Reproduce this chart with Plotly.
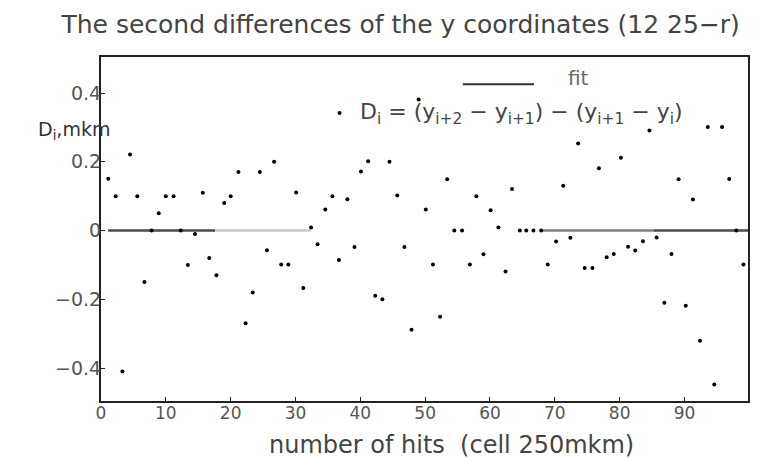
import plotly.graph_objects as go

# ---- data ----
hit_x = [1.13, 2.27, 3.3, 4.48, 5.6, 6.7, 7.8, 8.9, 10.0, 11.2, 12.3, 13.4, 14.5, 15.7, 16.7, 17.8,
         19.0, 20.0, 21.2, 22.3, 23.4, 24.5, 25.6,
         26.7, 27.8, 28.9, 30.1, 31.2, 32.4, 33.4, 34.6, 35.7, 36.7, 38.0, 39.1, 40.1, 41.2, 42.3,
         43.4, 44.5, 45.7, 46.8, 47.9, 49.0, 50.1, 51.2,
         52.3, 53.4, 54.5, 55.7, 56.9, 57.9, 59.0, 60.1, 61.3, 62.4, 63.4, 64.6, 65.6, 66.7, 67.9,
         68.9, 70.2, 71.3, 72.4, 73.6, 74.6, 75.8, 76.8,
         78.0, 79.1, 80.2, 81.3, 82.4, 83.6, 84.6, 85.7, 86.9, 88.0, 89.1, 90.2, 91.3, 92.4, 93.6,
         94.6, 95.8, 96.9, 98.0, 99.1]
d_values = [0.151, 0.10, -0.41, 0.221, 0.10, -0.15, 0.0, 0.05, 0.10, 0.10, 0.0, -0.10, -0.01, 0.11,
            -0.08, -0.13, 0.08, 0.10, 0.17, -0.27, -0.18, 0.17, -0.057,
            0.20, -0.099, -0.099, 0.111, -0.167, 0.009, -0.04, 0.061, 0.10, -0.086, 0.091, -0.048,
            0.172, 0.202, -0.19, -0.20, 0.20, 0.102, -0.048, -0.289, 0.381, 0.061, -0.099,
            -0.251, 0.149, 0.0, 0.0, -0.099, 0.10, -0.069, 0.059, 0.009, -0.119, 0.121, 0.0, 0.0,
            0.0, 0.0, -0.099, -0.032, 0.13, -0.021, 0.253, -0.109, -0.109, 0.181,
            -0.078, -0.068, 0.212, -0.047, -0.058, -0.031, 0.291, -0.02, -0.21, -0.068, 0.149,
            -0.219, 0.09, -0.321, 0.301, -0.448, 0.301, 0.15, 0.0, -0.099]

fit_dark_x = [1.1, 17.6, None, 85.3, 99.8]
fit_dark_y = [0, 0, None, 0, 0]
fit_light_x = [17.6, 32.4]
fit_light_y = [0, 0]
fit_mid_x = [68.0, 85.3]
fit_mid_y = [0, 0]

x_ticks = [0, 10, 20, 30, 40, 50, 60, 70, 80, 90]
y_ticks = [-0.4, -0.2, 0, 0.2, 0.4]
y_tick_text = ["−0.4", "−0.2", "0", "0.2", "0.4"]

FONT = "DejaVu Sans"

fig = go.Figure()
fig.add_trace(go.Scatter(x=fit_dark_x, y=fit_dark_y, mode="lines",
                         line=dict(color="#4a4a4a", width=2.5), showlegend=False, hoverinfo="skip"))
fig.add_trace(go.Scatter(x=fit_light_x, y=fit_light_y, mode="lines",
                         line=dict(color="#c8c8c8", width=2.5), showlegend=False, hoverinfo="skip"))
fig.add_trace(go.Scatter(x=fit_mid_x, y=fit_mid_y, mode="lines",
                         line=dict(color="#808080", width=2.5), showlegend=False, hoverinfo="skip"))
fig.add_trace(go.Scatter(x=hit_x, y=d_values, mode="markers",
                         marker=dict(color="black", size=4, symbol="circle"),
                         showlegend=False))

fig.update_layout(
    width=764, height=458,
    margin=dict(l=93, r=24, t=49, b=65),
    paper_bgcolor="white", plot_bgcolor="white",
    showlegend=False,
    title=dict(text="The second differences of the y coordinates (12 25−r)",
               x=0.514, xanchor="center", y=0.965, yanchor="middle",
               font=dict(family=FONT, size=25, color="#444")),
    xaxis=dict(range=[0, 99.8], tickvals=x_ticks, ticks="inside", ticklen=4,
               tickcolor="#222", showgrid=False, zeroline=False,
               showline=True, linecolor="#222", linewidth=2, mirror=True,
               ticklabelstandoff=-4,
               tickfont=dict(family=FONT, size=17, color="#555")),
    yaxis=dict(range=[-0.496, 0.505], tickvals=y_ticks, ticktext=y_tick_text,
               ticks="inside", ticklen=4, tickcolor="#222", showgrid=False, zeroline=False,
               showline=True, linecolor="#222", linewidth=2, mirror=True,
               ticklabelstandoff=-6,
               tickfont=dict(family=FONT, size=19, color="#555")),
    annotations=[
        dict(text="number of hits  (cell 250mkm)", xref="paper", yref="paper",
             x=0.5425, y=-0.128, xanchor="center", yanchor="middle", showarrow=False,
             font=dict(family=FONT, size=24, color="#444")),
        dict(text="D<sub>i</sub>,mkm", xref="paper", yref="paper",
             x=-0.1005, y=0.785, xanchor="left", yanchor="middle", showarrow=False,
             font=dict(family=FONT, size=19, color="#333")),
        dict(text="fit", xref="x", yref="y", x=71.7, y=0.443, xanchor="left",
             yanchor="middle", showarrow=False,
             font=dict(family=FONT, size=20, color="#666")),
        dict(text="D<sub>i</sub> = (y<sub>i+2</sub> − y<sub>i+1</sub>) − (y<sub>i+1</sub> − y<sub>i</sub>)",
             xref="x", yref="y", x=39.6, y=0.342, xanchor="left", yanchor="middle",
             showarrow=False, font=dict(family=FONT, size=22, color="#444")),
    ],
    shapes=[
        dict(type="line", xref="x", yref="y", x0=55.8, x1=66.8, y0=0.426, y1=0.426,
             line=dict(color="#333", width=2)),
        dict(type="circle", xref="x", yref="y", xsizemode="pixel", ysizemode="pixel",
             xanchor=36.8, yanchor=0.342, x0=-2, x1=2, y0=-2, y1=2,
             fillcolor="black", line=dict(color="black", width=0)),
    ],
)

fig.write_html("out.html")
